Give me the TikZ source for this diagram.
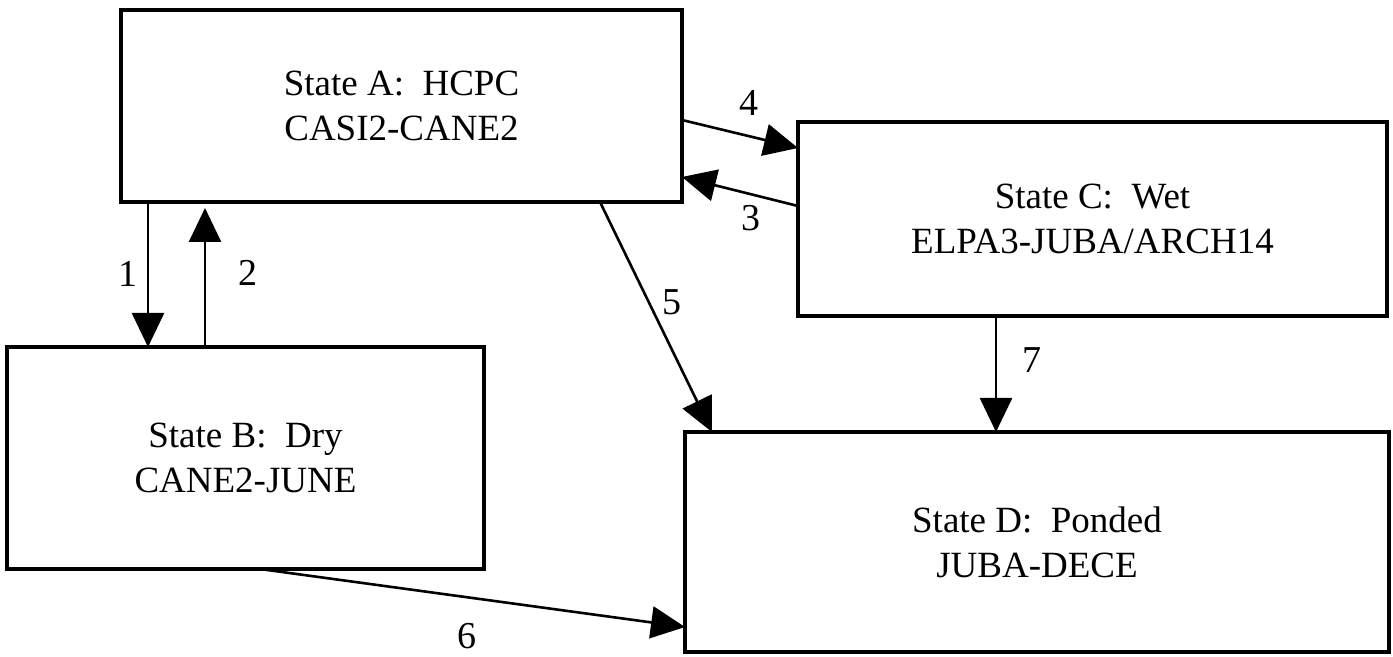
\documentclass[tikz,border=0pt]{standalone}
\usepackage{fontspec}
\setmainfont{Liberation Serif}
\usetikzlibrary{arrows.meta,calc}
\begin{document}
\begin{tikzpicture}[x=0.5pt,y=-0.5pt,
  statebox/.style={draw, line width=1.6pt, rectangle, inner sep=0pt, outer sep=0pt,
    align=center, font=\fontsize{18.5}{22.5}\selectfont},
  conn/.style={line width=1.3pt, -{Triangle[length=17pt,width=16pt]}},
  lbl/.style={font=\fontsize{19}{22}\selectfont, inner sep=0pt}]
\useasboundingbox (0,0) rectangle (1393,657);
% state boxes
\node[statebox, minimum width=280.5pt, minimum height=96pt] (A) at (401.5,106)
  {State A:\enspace HCPC\\CASI2-CANE2};
\node[statebox, minimum width=294.5pt, minimum height=97pt] (C) at (1092.5,219)
  {State C:\enspace Wet\\ELPA3-JUBA/ARCH14};
\node[statebox, minimum width=238.5pt, minimum height=111pt] (B) at (245.5,458)
  {State B:\enspace Dry\\CANE2-JUNE};
\node[statebox, minimum width=352pt, minimum height=110pt] (D) at (1037,542)
  {State D:\enspace Ponded\\JUBA-DECE};
% transitions
\draw[conn] ($(A.south west)+(27,0)$) -- ($(B.north west)+(141,0)$);
\draw[conn, shorten >=3pt] ($(B.north west)+(198,0)$) -- ($(A.south west)+(84,0)$);
\draw[conn] ($(A.north east)+(0,110)$) -- ($(C.north west)+(0,26)$);
\draw[conn] ($(C.north west)+(0,84)$) -- ($(A.north east)+(0,167)$);
\draw[conn] ($(A.south west)+(479,0)$) -- ($(D.north west)+(27,0)$);
\draw[conn] ($(C.south west)+(198,0)$) -- ($(D.north west)+(311,0)$);
\draw[conn] ($(B.south west)+(253,0)$) -- ($(D.north west)+(0,195)$);
% labels
\node[lbl] (l1) at (128,274) {1};
\node[lbl] (l2) at (248,273) {2};
\node[lbl] (l4) at (749,103) {4};
\node[lbl] (l3) at (751,218) {3};
\node[lbl] (l5) at (672,302) {5};
\node[lbl] (l7) at (1032,360) {7};
\node[lbl] (l6) at (467,636) {6};
\end{tikzpicture}
\end{document}
